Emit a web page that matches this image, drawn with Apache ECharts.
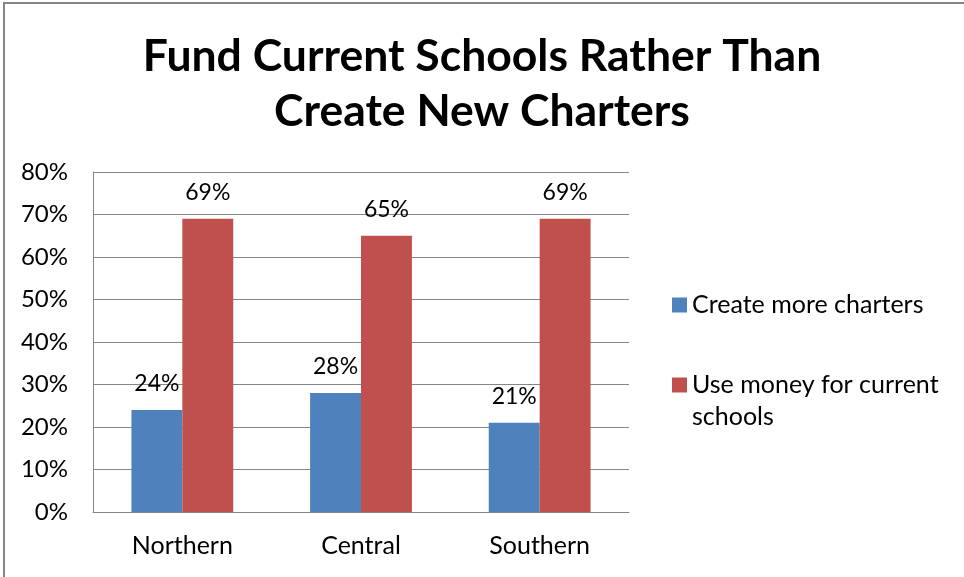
<!DOCTYPE html>
<html>
<head>
<meta charset="utf-8">
<script src="https://cdn.jsdelivr.net/npm/echarts@6/dist/echarts.min.js"></script>
<style>
html,body{margin:0;padding:0;background:#fff;}
#frame{position:absolute;left:3px;top:2px;width:961px;height:575px;border-left:2px solid #868686;border-top:2px solid #868686;box-sizing:border-box;}
#chart{position:absolute;left:0;top:0;width:964px;height:577px;}
</style>
</head>
<body>
<div id="frame"></div>
<div id="chart"></div>
<script>
const titleText = 'Fund Current Schools Rather Than\nCreate New Charters';
const categories = ['Northern', 'Central', 'Southern'];
const seriesNames = ['Create more charters', 'Use money for current schools'];
const createMore = [24, 28, 21];
const useMoney = [69, 65, 69];
const yTicks = [0, 10, 20, 30, 40, 50, 60, 70, 80];

const FONT = 'Lato';
const chart = echarts.init(document.getElementById('chart'), null, {renderer: 'canvas'});
const labelCfg = {
  show: true, position: 'top', distance: 15,
  formatter: p => p.value + '%',
  color: '#000', fontFamily: FONT, fontSize: 23
};
chart.setOption({
  animation: false,
  backgroundColor: 'transparent',
  title: {
    text: titleText, left: 'center', top: 24,
    textStyle: {fontFamily: FONT, fontWeight: 'bold', fontSize: 44.5, lineHeight: 55, color: '#000'}
  },
  legend: [
    {
      data: [seriesNames[0]], orient: 'vertical', left: 667, top: 284,
      itemWidth: 15, itemHeight: 15, itemGap: 0, icon: 'rect',
      textStyle: {fontFamily: FONT, fontSize: 25, color: '#000', lineHeight: 32}
    },
    {
      data: [seriesNames[1]], orient: 'vertical', left: 667, top: 332,
      itemWidth: 15, itemHeight: 15, itemGap: 0, icon: 'rect',
      formatter: n => '\n' + n.replace('current ', 'current\n'),
      textStyle: {fontFamily: FONT, fontSize: 25, color: '#000', lineHeight: 32}
    }
  ],
  grid: {left: 93, right: 335, top: 172, bottom: 65, containLabel: false},
  xAxis: {
    type: 'category', data: categories,
    axisLine: {lineStyle: {color: '#868686', width: 1}},
    axisTick: {show: false},
    axisLabel: {fontFamily: FONT, fontSize: 25, color: '#000', margin: 21}
  },
  yAxis: {
    type: 'value', min: 0, max: 80, interval: 10,
    axisLine: {show: true, lineStyle: {color: '#868686', width: 1}},
    axisTick: {show: false},
    splitLine: {lineStyle: {color: '#868686', width: 1}},
    axisLabel: {fontFamily: FONT, fontSize: 24, color: '#000', margin: 25,
      formatter: v => yTicks.includes(v) ? v + '%' : ''}
  },
  series: [
    {name: seriesNames[0], type: 'bar', data: createMore, barWidth: '28.5%', barGap: '0%',
     itemStyle: {color: '#4F81BD'}, label: labelCfg},
    {name: seriesNames[1], type: 'bar', data: useMoney, barWidth: '28.5%', barGap: '0%',
     itemStyle: {color: '#C0504D'}, label: labelCfg}
  ]
});
</script>
</body>
</html>
